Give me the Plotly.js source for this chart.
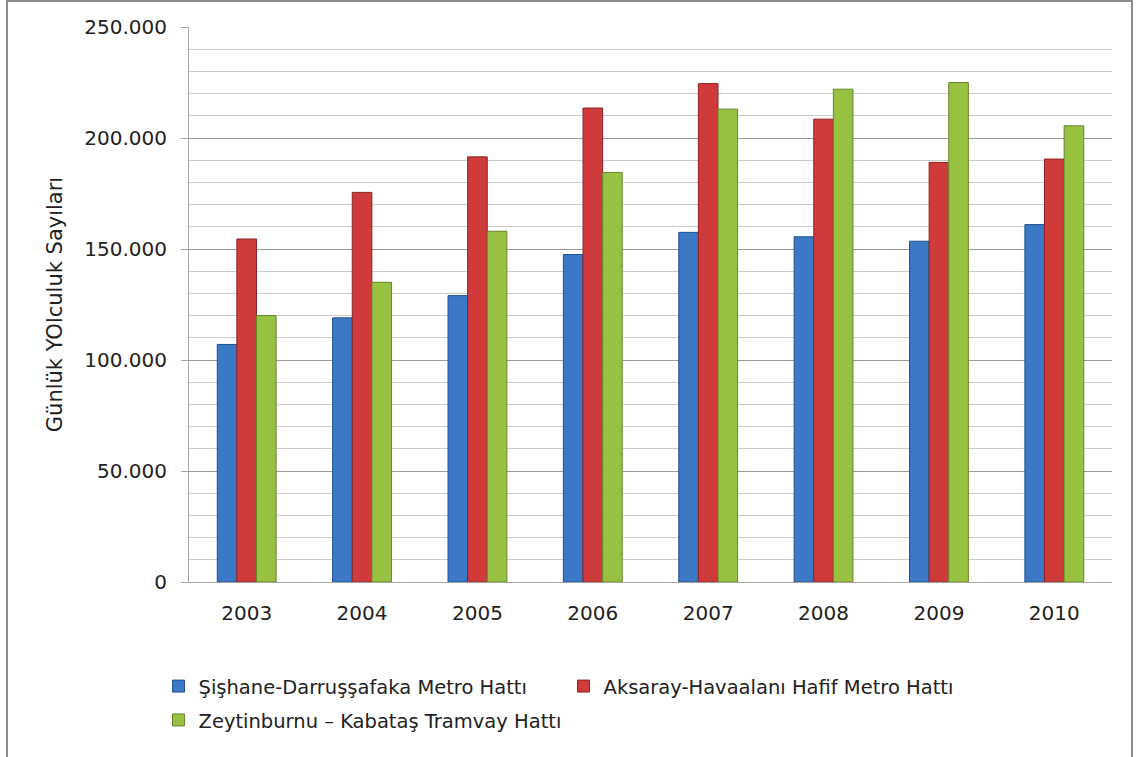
<!DOCTYPE html>
<html>
<head>
<meta charset="utf-8">
<script src="https://cdn.plot.ly/plotly-3.0.1.min.js"></script>
<style>
  html, body { margin: 0; padding: 0; background: #fff; }
  #wrap { position: relative; width: 1137px; height: 757px; overflow: hidden; }
  #chart { width: 1137px; height: 757px; }
  #frame { position: absolute; left: 6px; top: 0px; width: 1127px; height: 800px;
           border: 2px solid #8c8c8c; box-sizing: border-box; pointer-events: none; }
</style>
</head>
<body>
<div id="wrap">
  <div id="chart"></div>
  <div id="frame"></div>
</div>
<script>
const years = ['2003', '2004', '2005', '2006', '2007', '2008', '2009', '2010'];
const sishane = [107000, 119000, 129000, 147500, 157500, 155500, 153500, 161000];
const aksaray = [154500, 175500, 191500, 213500, 224500, 208500, 189000, 190500];
const zeytinburnu = [120000, 135000, 158000, 184500, 213000, 222000, 225000, 205500];
const seriesNames = [
  'Şişhane-Darruşşafaka Metro Hattı',
  'Aksaray-Havaalanı Hafif Metro Hattı',
  'Zeytinburnu – Kabataş Tramvay Hattı'
];
const yTitle = 'Günlük YOlculuk Sayıları';

const FONT = 'DejaVu Sans, Open Sans, sans-serif';

const traces = [
  { type: 'bar', x: years, y: sishane, name: seriesNames[0],
    marker: { color: '#3b78c6', line: { color: '#23508c', width: 1 } }, legend: 'legend' },
  { type: 'bar', x: years, y: aksaray, name: seriesNames[1],
    marker: { color: '#cf3b3b', line: { color: '#8f2222', width: 1 } }, legend: 'legend' },
  { type: 'bar', x: years, y: zeytinburnu, name: seriesNames[2],
    marker: { color: '#98c142', line: { color: '#66872a', width: 1 } }, legend: 'legend2' }
];

const layout = {
  width: 1137, height: 757,
  margin: { l: 189, r: 25, t: 27, b: 175 },
  paper_bgcolor: '#ffffff', plot_bgcolor: '#ffffff',
  separators: ',.',
  barmode: 'group', bargap: 0.49, bargroupgap: 0,
  font: { family: FONT, size: 19, color: '#222222' },
  showlegend: true,
  xaxis: {
    type: 'category',
    showgrid: false, showline: true, linecolor: '#a6a6a6', linewidth: 1,
    ticks: '', tickfont: { family: FONT, size: 20, color: '#222222' },
    ticklabelstandoff: 13, zeroline: false
  },
  yaxis: {
    range: [0, 250000], dtick: 50000, tickformat: ',d',
    showline: true, linecolor: '#a6a6a6', linewidth: 1,
    ticks: 'outside', ticklen: 7, tickcolor: '#a6a6a6',
    ticklabelstandoff: 10,
    showgrid: true, gridcolor: '#9a9a9a', gridwidth: 1,
    zeroline: false,
    minor: { dtick: 10000, showgrid: true, gridcolor: '#cccccc', gridwidth: 1 },
    tickfont: { family: FONT, size: 20, color: '#222222' },
    title: { text: yTitle, font: { family: FONT, size: 21, color: '#222222' }, standoff: 15 }
  },
  legend: {
    orientation: 'h', x: -0.033, xanchor: 'left', y: -0.153, yanchor: 'top',
    font: { family: FONT, size: 19.5, color: '#222222' },
    entrywidth: 360, traceorder: 'normal', bgcolor: 'rgba(0,0,0,0)'
  },
  legend2: {
    orientation: 'h', x: -0.033, xanchor: 'left', y: -0.214, yanchor: 'top',
    font: { family: FONT, size: 19.5, color: '#222222' },
    bgcolor: 'rgba(0,0,0,0)'
  }
};

Plotly.newPlot('chart', traces, layout, { displayModeBar: false, staticPlot: true });
</script>
</body>
</html>
